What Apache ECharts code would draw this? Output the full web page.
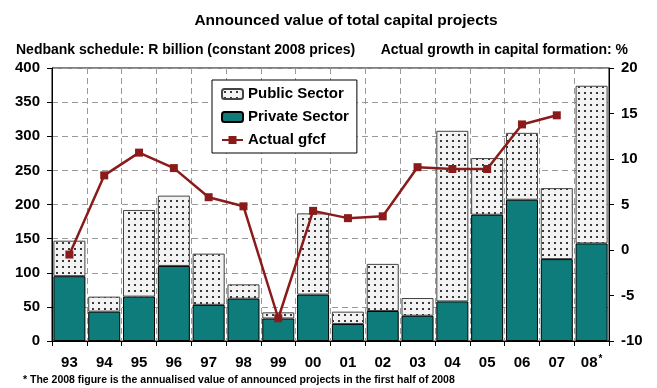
<!DOCTYPE html>
<html><head><meta charset="utf-8">
<script src="https://cdn.jsdelivr.net/npm/echarts@6/dist/echarts.min.js"></script>
<style>html,body{margin:0;padding:0;background:#fff}#c{width:657px;height:388px}</style>
</head><body><div id="c"></div>
<script>
const categories = ['93','94','95','96','97','98','99','00','01','02','03','04','05','06','07','08'];
const privateSector = [95, 43, 65, 110, 53, 62, 33, 68, 25, 44, 37, 58, 185, 207, 120, 143];
const publicSector  = [52, 22, 127, 103, 75, 21, 9, 119, 18, 69, 26, 250, 83, 98, 104, 231];
const gfcf = [-0.5, 8.2, 10.7, 9.0, 5.8, 4.8, -7.5, 4.3, 3.5, 3.7, 9.1, 8.9, 8.9, 13.8, 14.8, null];
const leftTicks = {min: 0, max: 400, interval: 50};
const rightTicks = {min: -10, max: 20, interval: 5};

const FONT = 'Arial, "Liberation Sans", sans-serif';
function dots() {
  const c = document.createElement('canvas');
  c.width = 6; c.height = 6;
  const g = c.getContext('2d');
  g.fillStyle = '#f3f3f3'; g.fillRect(0, 0, 6, 6);
  g.fillStyle = '#3a3a3a'; g.fillRect(2, 2, 2, 2);
  return c;
}
const pattern = {image: dots(), repeat: 'repeat'};
const dashed = {show: true, lineStyle: {color: '#999', type: [6, 4], width: 1}};

const chart = echarts.init(document.getElementById('c'), null, {renderer: 'canvas'});
chart.setOption({
  animation: false,
  backgroundColor: '#fff',
  title: [
    {text: 'Announced value of total capital projects', left: 341, top: 8, textAlign: 'center',
     textStyle: {fontFamily: FONT, fontSize: 15.5, fontWeight: 'bold', color: '#000'}},
    {text: 'Nedbank schedule: R billion (constant 2008 prices)', left: 11, top: 38,
     textStyle: {fontFamily: FONT, fontSize: 14, fontWeight: 'bold', color: '#000'}},
    {text: 'Actual growth in capital formation: %', right: 24, top: 38,
     textStyle: {fontFamily: FONT, fontSize: 14, fontWeight: 'bold', color: '#000'}},
    {text: '* The 2008 figure is the annualised value of announced projects in the first half of 2008', left: 18, top: 370,
     textStyle: {fontFamily: FONT, fontSize: 10.5, fontWeight: 'bold', color: '#000'}}
  ],
  legend: {
    orient: 'vertical', left: 212, top: 80,
    data: ['Public Sector', 'Private Sector', 'Actual gfcf'],
    backgroundColor: '#fff', borderColor: '#000', borderWidth: 1,
    padding: [6, 8, 5, 9], itemGap: 7, itemWidth: 21, itemHeight: 10,
    textStyle: {fontFamily: FONT, fontSize: 15, fontWeight: 'bold', color: '#000', lineHeight: 16}
  },
  grid: {left: 52, right: 48, top: 68, bottom: 47, show: true, borderColor: '#000', borderWidth: 1},
  xAxis: {
    type: 'category', data: categories, boundaryGap: true,
    axisLine: {onZero: false, lineStyle: {color: '#000', width: 1}},
    axisTick: {show: true, inside: false, length: 5, lineStyle: {color: '#000'}},
    splitLine: {show: true, interval: 0, lineStyle: {color: '#999', type: [6, 4], width: 1}},
    axisLabel: {
      margin: 13, fontFamily: FONT, fontSize: 15, fontWeight: 'bold', color: '#000', interval: 0,
      formatter: v => v === '08' ? '{a|08}{s|*}' : '{a|' + v + '}',
      rich: {a: {fontFamily: FONT, fontSize: 15, fontWeight: 'bold', color: '#000', lineHeight: 18},
             s: {fontFamily: FONT, fontSize: 10, fontWeight: 'bold', color: '#000', lineHeight: 10, verticalAlign: 'top', padding: [0, 0, 0, 1]}}
    }
  },
  yAxis: [
    {type: 'value', min: leftTicks.min, max: leftTicks.max, interval: leftTicks.interval,
     axisLine: {show: true, lineStyle: {color: '#000'}},
     axisTick: {show: true, length: 5, lineStyle: {color: '#000'}},
     splitLine: dashed,
     axisLabel: {margin: 12, fontFamily: FONT, fontSize: 15, fontWeight: 'bold', color: '#000'}},
    {type: 'value', min: rightTicks.min, max: rightTicks.max, interval: rightTicks.interval, position: 'right',
     axisLine: {show: true, lineStyle: {color: '#000'}},
     axisTick: {show: true, length: 5, lineStyle: {color: '#000'}},
     splitLine: {show: false},
     axisLabel: {margin: 12, fontFamily: FONT, fontSize: 15, fontWeight: 'bold', color: '#000'}}
  ],
  series: [
    {name: 'Private Sector', type: 'bar', stack: 'total', data: privateSector, barCategoryGap: '8%',
     itemStyle: {color: '#0e7c7b', borderColor: '#000', borderWidth: 1}},
    {name: 'Public Sector', type: 'bar', stack: 'total', data: publicSector, barCategoryGap: '8%',
     itemStyle: {color: pattern, borderColor: '#444', borderWidth: 1}},
    {name: 'Actual gfcf', type: 'line', yAxisIndex: 1, data: gfcf, z: 5,
     symbol: 'rect', symbolSize: 8, connectNulls: false,
     lineStyle: {color: '#8b1a1a', width: 2.5}, itemStyle: {color: '#8b1a1a'}}
  ]
});
</script></body></html>
